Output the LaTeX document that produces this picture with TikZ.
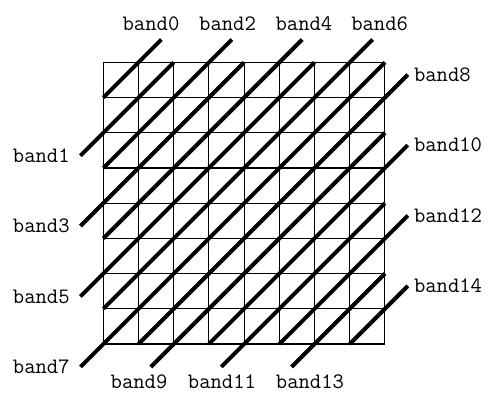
\documentclass[tikz,border=0pt]{standalone}
\usepackage{tikz}
\tikzset{
  gridline/.style={line width=0.9pt},
  bandline/.style={line width=3.2pt},
  bandlabel/.style={font=\ttfamily\fontsize{17.8}{21}\selectfont, inner sep=0pt}
}

\begin{document}
\begin{tikzpicture}
\useasboundingbox (-2.935,-1.392) rectangle (10.957,9.773);
% the 8x8 cells
\draw[gridline] (0,0) grid (8,8);
% diagonal bands, even ones stick out top/right, odd ones bottom/left
\foreach \k in {0,...,14}{
  \pgfmathsetmacro\sx{max(\k-7,0)}
  \pgfmathsetmacro\sy{max(7-\k,0)}
  \pgfmathsetmacro\ex{8+min(\k-7,0)}
  \pgfmathsetmacro\ey{8-max(\k-7,0)}
  \pgfmathsetmacro\lo{mod(\k,2)*0.65}
  \pgfmathsetmacro\hi{(1-mod(\k,2))*0.65}
  \draw[bandline] (\sx-\lo,\sy-\lo) coordinate (b\k s) -- (\ex+\hi,\ey+\hi) coordinate (b\k e);
}
% labels on top
\node[bandlabel, anchor=base] (l0) at (1.355,8.92) {band0};
\node[bandlabel, anchor=base] (l2) at (3.530,8.92) {band2};
\node[bandlabel, anchor=base] (l4) at (5.700,8.92) {band4};
\node[bandlabel, anchor=base] (l6) at (7.850,8.92) {band6};
% labels on the right
\node[bandlabel, anchor=west] (l8) at ([xshift=0.17cm]b8e) {band8};
\node[bandlabel, anchor=west] (l10) at ([xshift=0.17cm]b10e) {band10};
\node[bandlabel, anchor=west] (l12) at ([xshift=0.17cm]b12e) {band12};
\node[bandlabel, anchor=west] (l14) at ([xshift=0.17cm]b14e) {band14};
% labels on the left
\node[bandlabel, anchor=east] (l1) at ([xshift=-0.30cm]b1s) {band1};
\node[bandlabel, anchor=east] (l3) at ([xshift=-0.30cm]b3s) {band3};
\node[bandlabel, anchor=east] (l5) at ([xshift=-0.30cm]b5s) {band5};
\node[bandlabel, anchor=east] (l7) at ([xshift=-0.30cm]b7s) {band7};
% labels below
\node[bandlabel, anchor=base] (l9) at (1.014,-1.25) {band9};
\node[bandlabel, anchor=base] (l11) at (3.370,-1.25) {band11};
\node[bandlabel, anchor=base] (l13) at (5.870,-1.25) {band13};
\end{tikzpicture}
\end{document}
